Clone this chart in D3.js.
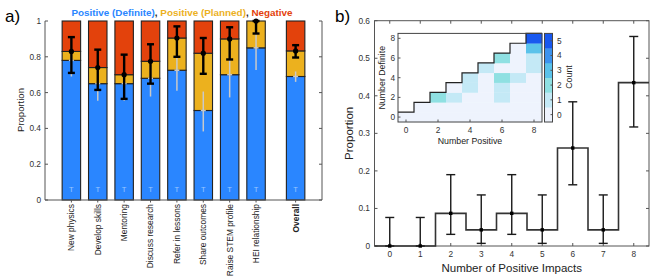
<!DOCTYPE html>
<html lang="en">
<head>
<meta charset="UTF-8">
<style>
  body { margin: 0; background: #fff; }
  text { font-family: "Liberation Sans", Arial, sans-serif; }
</style>
</head>
<body>
<script src="https://d3js.org/d3.v7.min.js"></script>
<div id="here"></div>
<script>
// ---- panel a data ----
const categories = ["New physics", "Develop skills", "Mentoring", "Discuss research", "Refer in lessons",
                    "Share outcomes", "Raise STEM profile", "HEI relationship", "Overall"];
const catPos = [0, 1, 2, 3, 4, 5, 6, 7, 8.5];
const definite = [0.78, 0.65, 0.65, 0.68, 0.725, 0.50, 0.70, 0.85, 0.69];
const positive = [0.83, 0.74, 0.70, 0.775, 0.905, 0.82, 0.90, 1.00, 0.833];
const posLow  = [0.71, 0.615, 0.565, 0.65, 0.80, 0.705, 0.785, 0.93, 0.796];
const posHigh = [0.91, 0.84, 0.812, 0.87, 0.97, 0.905, 0.965, 1.00, 0.865];
const defLow  = [0.69, 0.555, 0.555, 0.578, 0.61, 0.383, 0.573, 0.726, 0.66];
const defHigh = [0.82, 0.72, 0.70, 0.745, 0.855, 0.606, 0.84, 0.93, 0.718];
const yTicksA = [0, 0.2, 0.4, 0.6, 0.8, 1];

// ---- panel b data ----
const impacts = [0, 1, 2, 3, 4, 5, 6, 7, 8];
const proportion = [0, 0, 0.087, 0.043, 0.087, 0.043, 0.261, 0.043, 0.435];
const propLow  = [0, 0, 0.031, 0.007, 0.031, 0.007, 0.163, 0.007, 0.317];
const propHigh = [0.076, 0.076, 0.19, 0.136, 0.19, 0.136, 0.384, 0.136, 0.558];
const yTicksB = [0, 0.1, 0.2, 0.3, 0.4, 0.5, 0.6];

// inset: [number positive, number definite, count] (all other cells below the stair are 0)
const heatCells = [[2,2,2],[3,2,1],[4,3,1],[4,4,1],[5,5,1],[6,2,1],[6,3,1],[6,4,2],[6,6,2],
                   [7,4,1],[8,5,1],[8,6,1],[8,7,3],[8,8,5]];
const countLevels = [0, 1, 2, 3, 4, 5];
const countColors = ["#eef3fd", "#c4e9f6", "#8fe0e2", "#5ac2ea", "#3c93ee", "#1858ef"];

const W = 661, H = 277;
const svg = d3.select("#here").append("svg").attr("width", W).attr("height", H);

const blue = "#2a86ff", orange = "#ecb11e", red = "#e3420c";
const axisCol = "#555";

// ================= panel a =================
{
  const x = d3.scaleLinear().domain([-1, 9.5]).range([45, 322]);
  const y = d3.scaleLinear().domain([0, 1]).range([200, 21]);
  const bw = (x(1) - x(0)) * 0.7;
  const g = svg.append("g");

  g.append("text").attr("x", 5).attr("y", 22).attr("font-size", 17).text("a)");

  // bars
  categories.forEach((c, i) => {
    const cx = x(catPos[i]);
    const segs = [[0, definite[i], blue], [definite[i], positive[i], orange], [positive[i], 1, red]];
    segs.forEach(([a, b, col]) => {
      if (b - a <= 0) return;
      g.append("rect").attr("x", cx - bw / 2).attr("y", y(b)).attr("width", bw)
        .attr("height", y(a) - y(b)).attr("fill", col).attr("stroke", "#222").attr("stroke-width", 1.1);
    });
    g.append("text").attr("x", cx).attr("y", 192).attr("text-anchor", "middle")
      .attr("font-size", 7.5).attr("fill", "#9cc6ff").text("T");
  });

  // grey error bars (definite)
  categories.forEach((c, i) => {
    const cx = x(catPos[i]);
    g.append("line").attr("x1", cx).attr("x2", cx).attr("y1", y(defLow[i])).attr("y2", y(defHigh[i]))
      .attr("stroke", "#c9c9c9").attr("stroke-width", 1.5);
    g.append("line").attr("x1", cx - 2.5).attr("x2", cx + 2.5).attr("y1", y(definite[i])).attr("y2", y(definite[i]))
      .attr("stroke", "#c9c9c9").attr("stroke-width", 1.5);
  });
  // black error bars (positive)
  categories.forEach((c, i) => {
    const cx = x(catPos[i]);
    const eb = g.append("g").attr("stroke", "#000").attr("stroke-width", 2.4);
    eb.append("line").attr("x1", cx).attr("x2", cx).attr("y1", y(posLow[i])).attr("y2", y(posHigh[i]));
    [posLow[i], posHigh[i]].forEach(v => eb.append("line").attr("x1", cx - 3.5).attr("x2", cx + 3.5)
      .attr("y1", y(v)).attr("y2", y(v)));
    g.append("circle").attr("cx", cx).attr("cy", y(positive[i])).attr("r", 2.6).attr("fill", "#000");
  });

  // axes
  g.append("line").attr("x1", 45).attr("x2", 45).attr("y1", 21).attr("y2", 200).attr("stroke", axisCol);
  g.append("line").attr("x1", 322).attr("x2", 322).attr("y1", 21).attr("y2", 200).attr("stroke", axisCol);
  g.append("line").attr("x1", 45).attr("x2", 322).attr("y1", 200).attr("y2", 200).attr("stroke", axisCol);
  yTicksA.forEach(t => {
    g.append("line").attr("x1", 45).attr("x2", 48).attr("y1", y(t)).attr("y2", y(t)).attr("stroke", axisCol);
    g.append("line").attr("x1", 319).attr("x2", 322).attr("y1", y(t)).attr("y2", y(t)).attr("stroke", axisCol);
    g.append("text").attr("x", 41).attr("y", y(t)).attr("dy", "0.35em").attr("text-anchor", "end")
      .attr("font-size", 8.3).attr("fill", "#333").text(d3.format("~g")(t));
  });
  categories.forEach((c, i) => {
    const cx = x(catPos[i]);
    g.append("line").attr("x1", cx).attr("x2", cx).attr("y1", 200).attr("y2", 202.5).attr("stroke", axisCol);
    g.append("text").attr("transform", `translate(${cx},204) rotate(-90)`).attr("dy", "0.35em")
      .attr("text-anchor", "end").attr("font-size", 8.4).attr("fill", "#222")
      .attr("font-weight", c === "Overall" ? "bold" : "normal").text(c);
  });
  g.append("text").attr("transform", "translate(24,110) rotate(-90)").attr("text-anchor", "middle")
    .attr("font-size", 9.5).attr("fill", "#222").text("Proportion");

  // legend title
  const lt = g.append("text").attr("x", 182).attr("y", 16).attr("text-anchor", "middle")
    .attr("font-size", 9.9).attr("font-weight", "bold");
  lt.append("tspan").attr("fill", blue).text("Positive (Definite)");
  lt.append("tspan").attr("fill", "#222").text(", ");
  lt.append("tspan").attr("fill", orange).text("Positive (Planned)");
  lt.append("tspan").attr("fill", "#222").text(", ");
  lt.append("tspan").attr("fill", red).text("Negative");
}

// ================= panel b =================
{
  const x = d3.scaleLinear().domain([-0.5, 8.5]).range([374.5, 649]);
  const y = d3.scaleLinear().domain([0, 0.6]).range([246, 20.7]);
  const g = svg.append("g");

  g.append("text").attr("x", 335).attr("y", 22).attr("font-size", 17).text("b)");

  // box + ticks
  g.append("rect").attr("x", x(-0.5)).attr("y", y(0.6)).attr("width", x(8.5) - x(-0.5))
    .attr("height", y(0) - y(0.6)).attr("fill", "none").attr("stroke", axisCol);
  impacts.forEach(t => {
    g.append("line").attr("x1", x(t)).attr("x2", x(t)).attr("y1", y(0)).attr("y2", y(0) - 3).attr("stroke", axisCol);
    g.append("line").attr("x1", x(t)).attr("x2", x(t)).attr("y1", y(0.6)).attr("y2", y(0.6) + 3).attr("stroke", axisCol);
    g.append("text").attr("x", x(t)).attr("y", 257).attr("text-anchor", "middle").attr("font-size", 8.3)
      .attr("fill", "#333").text(t);
  });
  yTicksB.forEach(t => {
    g.append("line").attr("x1", x(-0.5)).attr("x2", x(-0.5) + 3).attr("y1", y(t)).attr("y2", y(t)).attr("stroke", axisCol);
    g.append("line").attr("x1", x(8.5)).attr("x2", x(8.5) - 3).attr("y1", y(t)).attr("y2", y(t)).attr("stroke", axisCol);
    g.append("text").attr("x", 370).attr("y", y(t)).attr("dy", "0.35em").attr("text-anchor", "end")
      .attr("font-size", 8.3).attr("fill", "#333").text(d3.format("~g")(t));
  });
  g.append("text").attr("x", x(4)).attr("y", 272).attr("text-anchor", "middle").attr("font-size", 11.5)
    .attr("fill", "#222").text("Number of Positive Impacts");
  g.append("text").attr("transform", `translate(353,${y(0.3)}) rotate(-90)`).attr("text-anchor", "middle")
    .attr("font-size", 11.5).attr("fill", "#222").text("Proportion");

  // stairs
  const stairPts = impacts.map((d, i) => [d - 0.5, proportion[i]]).concat([[8.5, proportion[8]]]);
  g.append("path").attr("d", d3.line().x(d => x(d[0])).y(d => y(d[1])).curve(d3.curveStepAfter)(stairPts))
    .attr("fill", "none").attr("stroke", "#333").attr("stroke-width", 1.6);

  // error bars
  impacts.forEach((d, i) => {
    const cx = x(d);
    const eb = g.append("g").attr("stroke", "#1a1a1a").attr("stroke-width", 1.4);
    eb.append("line").attr("x1", cx).attr("x2", cx).attr("y1", y(propLow[i])).attr("y2", y(propHigh[i]));
    [propLow[i], propHigh[i]].forEach(v => eb.append("line").attr("x1", cx - 4.5).attr("x2", cx + 4.5)
      .attr("y1", y(v)).attr("y2", y(v)));
    g.append("rect").attr("x", cx - 1.7).attr("y", y(proportion[i]) - 1.7).attr("width", 3.4).attr("height", 3.4)
      .attr("fill", "#000");
  });

  // ---- inset heatmap ----
  const ix = d3.scaleLinear().domain([-0.5, 8.5]).range([398, 542]);
  const iy = d3.scaleLinear().domain([-0.5, 8.5]).range([122, 33.4]);
  const color = d3.scaleOrdinal().domain(countLevels).range(countColors);
  const ig = g.append("g");
  ig.append("rect").attr("x", ix(-0.5)).attr("y", iy(8.5)).attr("width", ix(8.5) - ix(-0.5))
    .attr("height", iy(-0.5) - iy(8.5)).attr("fill", "#fff");
  const cellMap = new Map(heatCells.map(c => [c[0] + "," + c[1], c[2]]));
  for (let p = 0; p <= 8; p++) {
    for (let d = 0; d <= p; d++) {
      const n = cellMap.get(p + "," + d) || 0;
      ig.append("rect").attr("x", ix(p - 0.5)).attr("y", iy(d + 0.5)).attr("width", ix(p + 0.5) - ix(p - 0.5) + 0.3)
        .attr("height", iy(d - 0.5) - iy(d + 0.5) + 0.3).attr("fill", color(n));
    }
  }
  const edge = d3.range(0, 9).map(k => [k - 0.5, k + 0.5]).concat([[8.5, 8.5]]);
  ig.append("path").attr("d", d3.line().x(d => ix(d[0])).y(d => iy(d[1])).curve(d3.curveStepAfter)(edge))
    .attr("fill", "none").attr("stroke", "#222").attr("stroke-width", 1.2);
  ig.append("rect").attr("x", ix(-0.5)).attr("y", iy(8.5)).attr("width", ix(8.5) - ix(-0.5))
    .attr("height", iy(-0.5) - iy(8.5)).attr("fill", "none").attr("stroke", "#444").attr("stroke-width", 1);
  [0, 2, 4, 6, 8].forEach(t => {
    ig.append("line").attr("x1", ix(t)).attr("x2", ix(t)).attr("y1", iy(-0.5)).attr("y2", iy(-0.5) - 2.5).attr("stroke", axisCol);
    ig.append("line").attr("x1", ix(-0.5)).attr("x2", ix(-0.5) + 2.5).attr("y1", iy(t)).attr("y2", iy(t)).attr("stroke", axisCol);
    ig.append("text").attr("x", ix(t)).attr("y", 133).attr("text-anchor", "middle").attr("font-size", 8.3)
      .attr("fill", "#333").text(t);
    ig.append("text").attr("x", 395).attr("y", iy(t)).attr("dy", "0.35em").attr("text-anchor", "end")
      .attr("font-size", 8.3).attr("fill", "#333").text(t);
  });
  ig.append("text").attr("x", ix(4)).attr("y", 144).attr("text-anchor", "middle").attr("font-size", 8.8)
    .attr("fill", "#222").text("Number Positive");
  ig.append("text").attr("transform", `translate(385,${iy(4)}) rotate(-90)`).attr("text-anchor", "middle")
    .attr("font-size", 8.8).attr("fill", "#222").text("Number Definite");

  // colorbar
  const cb = d3.scaleBand().domain(countLevels).range([122, 33.4]);
  countLevels.forEach(l => {
    ig.append("rect").attr("x", 544.5).attr("y", cb(l)).attr("width", 8).attr("height", cb.bandwidth() + 0.3)
      .attr("fill", color(l));
    ig.append("line").attr("x1", 552.5).attr("x2", 550.5).attr("y1", cb(l) + cb.bandwidth() / 2)
      .attr("y2", cb(l) + cb.bandwidth() / 2).attr("stroke", axisCol);
    ig.append("text").attr("x", 557).attr("y", cb(l) + cb.bandwidth() / 2).attr("dy", "0.35em")
      .attr("font-size", 8.3).attr("fill", "#333").text(l);
  });
  ig.append("rect").attr("x", 544.5).attr("y", 33.4).attr("width", 8).attr("height", 122 - 33.4)
    .attr("fill", "none").attr("stroke", "#444");
  ig.append("text").attr("transform", `translate(572,77) rotate(-90)`).attr("text-anchor", "middle")
    .attr("font-size", 8.8).attr("fill", "#222").text("Count");
}
</script>
</body>
</html>
